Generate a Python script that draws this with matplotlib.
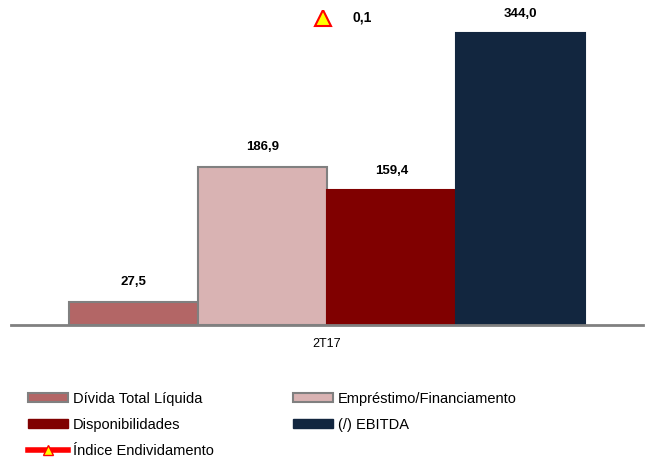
import matplotlib.pyplot as plt
from matplotlib.patches import Patch
from matplotlib.lines import Line2D

plt.rcParams['font.family'] = ['Liberation Sans', 'DejaVu Sans']

period = "2T17"
series = ["Dívida Total Líquida", "Empréstimo/Financiamento", "Disponibilidades", "(/) EBITDA"]
values = [27.5, 186.9, 159.4, 344.0]
labels = ["27,5", "186,9", "159,4", "344,0"]
colors = ["#B36666", "#D9B3B3", "#800000", "#12263F"]
edges = ["#808080", "#808080", "#800000", "#12263F"]
indice_name = "Índice Endividamento"
indice = 0.1
indice_label = "0,1"

fig = plt.figure(figsize=(6.5, 4.61), dpi=100)
ax = fig.add_axes([11 / 650, (461 - 325) / 461, 632 / 650, 315 / 461])

xs = [-1.5, -0.5, 0.5, 1.5]
for x, v, c, e, lab in zip(xs, values, colors, edges, labels):
    ax.bar(x, v, width=1.0, color=c, edgecolor=e, linewidth=1.5, zorder=2)
    ax.annotate(lab, (x, v), textcoords="offset points", xytext=(0, 9.5),
                ha='center', va='bottom', fontsize=9.5, fontweight='bold')

ax.set_xlim(-2.445, 2.445)
ax.set_ylim(0, 371.5)
for s in ['top', 'right', 'left']:
    ax.spines[s].set_visible(False)
ax.spines['bottom'].set_color('#808080')
ax.spines['bottom'].set_linewidth(2)
ax.set_yticks([])
ax.set_xticks([0])
ax.set_xticklabels([period], fontsize=9)
ax.tick_params(axis='x', length=0, pad=9)

ax2 = ax.twinx()
ax2.set_ylim(0, 0.1026)
ax2.set_yticks([])
for s in ax2.spines.values():
    s.set_visible(False)
ax2.plot([-0.03], [indice], marker='^', markersize=12, markerfacecolor='#FFFF00',
         markeredgecolor='#FF0000', markeredgewidth=1.5, linestyle='none', zorder=5)
ax2.annotate(indice_label, (-0.03, indice), textcoords="offset points", xytext=(21, 0),
             ha='left', va='center', fontsize=10, fontweight='bold')

handles = [
    Patch(facecolor=colors[0], edgecolor=edges[0], linewidth=1.5, label=series[0]),
    Patch(facecolor=colors[2], edgecolor=edges[2], label=series[2]),
    Line2D([], [], color='#FF0000', linewidth=4, marker='^', markersize=7,
           markerfacecolor='#FFFF00', markeredgecolor='#FF0000', label=indice_name),
    Patch(facecolor=colors[1], edgecolor=edges[1], linewidth=1.5, label=series[1]),
    Patch(facecolor=colors[3], edgecolor=edges[3], label=series[3]),
]
fig.legend(handles=handles, ncol=2, loc='upper left', bbox_to_anchor=(28 / 650, 0.150),
           frameon=False, fontsize=10.5, handlelength=2.75, handleheight=0.6,
           handletextpad=0.35, columnspacing=5.4, labelspacing=0.82,
           borderaxespad=0, borderpad=0)

fig.savefig("out.png", dpi=100)
